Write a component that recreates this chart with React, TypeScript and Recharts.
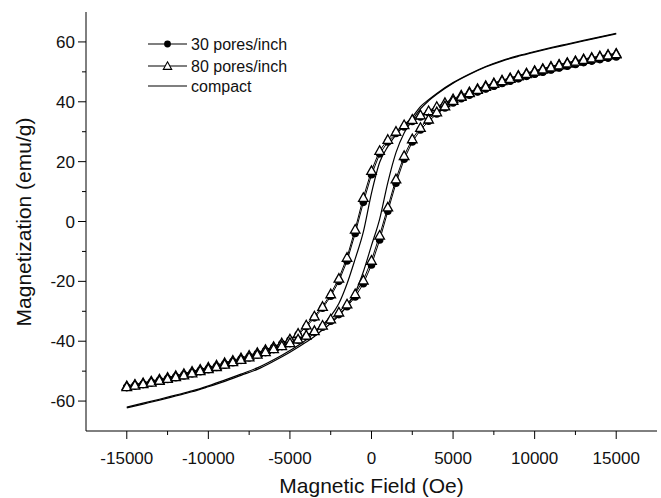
import { Legend, Scatter, ScatterChart, XAxis, YAxis } from 'recharts';

// applied field steps (Oe) of the VSM sweep
const field = [
  -15000, -14500, -14000, -13500, -13000, -12500, -12000, -11500, -11000, -10500,
  -10000, -9500, -9000, -8500, -8000, -7500, -7000, -6500, -6000, -5500,
  -5000, -4500, -4000, -3500, -3000, -2500, -2000, -1500, -1000, -500,
  0, 500, 1000, 1500, 2000, 2500, 3000, 3500, 4000, 4500,
  5000, 5500, 6000, 6500, 7000, 7500, 8000, 8500, 9000, 9500,
  10000, 10500, 11000, 11500, 12000, 12500, 13000, 13500, 14000, 14500, 15000,
];

// 30 pores/inch, descending branch (upper) and ascending branch (lower)
const m30Down = [
  -55.3, -54.8, -54.3, -53.7, -53.1, -52.5, -51.9, -51.2, -50.5, -49.8,
  -49.1, -48.4, -47.6, -46.8, -46.0, -45.1, -44.2, -43.2, -42.1, -40.9,
  -39.6, -37.8, -35.2, -32.2, -29.0, -25.0, -20.0, -13.2, -4.0, 6.4,
  15.6, 22.6, 26.6, 29.4, 31.6, 33.4, 34.9, 36.3, 37.6, 38.9,
  40.2, 41.3, 42.4, 43.4, 44.4, 45.3, 46.2, 47.0, 47.8, 48.6,
  49.3, 50.0, 50.7, 51.4, 52.0, 52.6, 53.2, 53.7, 54.2, 54.7, 55.2,
];
const m30Up = [
  -55.5, -55.0, -54.5, -54.0, -53.4, -52.8, -52.2, -51.6, -50.9, -50.2,
  -49.5, -48.8, -48.0, -47.2, -46.4, -45.6, -44.7, -43.8, -42.8, -41.8,
  -40.8, -39.7, -38.4, -37.0, -35.3, -33.3, -31.1, -28.5, -25.2, -20.8,
  -14.5, -6.2, 3.4, 12.8, 20.8, 26.6, 30.6, 33.5, 35.9, 37.9,
  39.6, 41.0, 42.2, 43.3, 44.3, 45.2, 46.1, 46.9, 47.7, 48.5,
  49.2, 49.9, 50.6, 51.3, 51.9, 52.5, 53.1, 53.6, 54.1, 54.6, 55.0,
];

// 80 pores/inch
const m80Down = [
  -54.9, -54.4, -53.9, -53.3, -52.7, -52.1, -51.5, -50.8, -50.1, -49.4,
  -48.7, -48.0, -47.2, -46.4, -45.6, -44.7, -43.8, -42.8, -41.8, -40.6,
  -39.3, -37.4, -34.6, -31.6, -28.4, -24.2, -19.0, -12.0, -2.6, 8.0,
  17.0, 23.7, 27.4, 30.1, 32.3, 34.1, 35.6, 37.0, 38.4, 39.7,
  41.0, 42.2, 43.3, 44.4, 45.4, 46.3, 47.2, 48.0, 48.8, 49.6,
  50.4, 51.1, 51.8, 52.5, 53.1, 53.7, 54.3, 54.8, 55.3, 55.8, 56.2,
];
const m80Up = [
  -55.2, -54.7, -54.2, -53.7, -53.1, -52.5, -51.9, -51.3, -50.6, -49.9,
  -49.2, -48.5, -47.7, -46.9, -46.1, -45.3, -44.4, -43.5, -42.5, -41.5,
  -40.5, -39.3, -38.0, -36.5, -34.7, -32.6, -30.3, -27.6, -24.2, -19.6,
  -13.0, -4.6, 4.8, 14.2, 22.0, 27.6, 31.4, 34.2, 36.6, 38.6,
  40.4, 41.8, 43.0, 44.1, 45.1, 46.1, 47.0, 47.8, 48.6, 49.4,
  50.2, 50.9, 51.6, 52.3, 52.9, 53.5, 54.1, 54.6, 55.1, 55.6, 56.0,
];

// compact sample (plain line)
const compactField = [
  -15000, -14000, -13000, -12000, -11000, -10000, -9000, -8000, -7000, -6000, -5000, -4000,
  -3500, -3000, -2500, -2000, -1500, -1000, -500, 0, 500, 1000, 1500, 2000, 2500, 3000, 3500,
  4000, 5000, 6000, 7000, 8000, 9000, 10000, 11000, 12000, 13000, 14000, 15000,
];
const compactDown = [
  -62.0, -60.7, -59.4, -58.0, -56.6, -54.9, -53.0, -51.0, -48.9, -46.2, -43.1, -39.5,
  -37.2, -34.6, -31.6, -27.4, -20.8, -12.5, -3.5, 9.5, 19.8, 25.0, 29.0, 32.2, 34.9, 38.4, 40.7,
  42.8, 46.4, 49.3, 51.8, 53.8, 55.4, 56.8, 58.1, 59.3, 60.5, 61.7, 62.9,
];
const compactUp = [
  -62.3, -61.0, -59.7, -58.3, -56.9, -55.2, -53.4, -51.4, -49.4, -46.7, -43.7, -40.3,
  -38.4, -36.2, -34.0, -31.4, -28.2, -23.8, -16.8, -8.0, 0.8, 13.0, 23.0, 29.6, 33.8, 37.6, 40.3,
  42.5, 46.2, 49.1, 51.6, 53.6, 55.2, 56.6, 57.9, 59.1, 60.3, 61.5, 62.7,
];

const xTicks = [-15000, -12500, -10000, -7500, -5000, -2500, 0, 2500, 5000, 7500, 10000, 12500, 15000];
const yTicks = [-60, -50, -40, -30, -20, -10, 0, 10, 20, 30, 40, 50, 60];

const FONT = '"Liberation Sans", Arial, Helvetica, sans-serif';

const toPoints = (xs: number[], ys: number[]) => xs.map((x, i) => ({ x, y: ys[i] }));

const Dot = (p: any) => <circle cx={p.cx} cy={p.cy} r={3.8} fill="#000" />;
const Tri = (p: any) => {
  const { cx, cy } = p;
  const s = 4.8;
  return (
    <polygon
      points={`${cx},${cy - s} ${cx + s},${cy + s * 0.8} ${cx - s},${cy + s * 0.8}`}
      fill="#fff"
      stroke="#000"
      strokeWidth={1.3}
    />
  );
};
const NoDot = () => <g />;

const XTick = (props: any) => {
  const { x, y, payload } = props;
  const v = payload.value as number;
  const major = v % 5000 === 0;
  return (
    <g>
      <line x1={x} x2={x} y1={y} y2={y + (major ? 8 : 4)} stroke="#000" />
      {major && (
        <text x={x} y={y + 33} textAnchor="middle" fontSize={17} fontFamily={FONT} fill="#111">
          {String(v)}
        </text>
      )}
    </g>
  );
};

const YTick = (props: any) => {
  const { x, y, payload } = props;
  const v = payload.value as number;
  const major = v % 20 === 0;
  return (
    <g>
      <line x1={x} x2={x - (major ? 8 : 4)} y1={y} y2={y} stroke="#000" />
      {major && (
        <text x={x - 11} y={y + 6} textAnchor="end" fontSize={17} fontFamily={FONT} fill="#111">
          {String(v)}
        </text>
      )}
    </g>
  );
};

function LegendBox() {
  const rows = [
    { y: 14, label: '30 pores/inch', mark: 'dot' },
    { y: 36, label: '80 pores/inch', mark: 'tri' },
    { y: 56, label: 'compact', mark: 'none' },
  ];
  return (
    <svg width={170} height={70}>
      {rows.map((r) => (
        <g key={r.label}>
          <line x1={8} x2={47} y1={r.y} y2={r.y} stroke="#000" strokeWidth={1.2} />
          {r.mark === 'dot' && <circle cx={27.5} cy={r.y} r={3.4} fill="#000" />}
          {r.mark === 'tri' && (
            <polygon
              points={`27.5,${r.y - 4.2} 31.7,${r.y + 3.4} 23.3,${r.y + 3.4}`}
              fill="#fff"
              stroke="#000"
              strokeWidth={1.1}
            />
          )}
          <text x={51} y={r.y + 5.5} fontSize={16} fontFamily={FONT} fill="#111">
            {r.label}
          </text>
        </g>
      ))}
    </svg>
  );
}

export default function App() {
  const lineStyle = { stroke: '#000', strokeWidth: 1 };
  return (
    <div style={{ position: 'absolute', left: 0, top: 0, width: 661, height: 498, background: '#fff' }}>
      <ScatterChart width={661} height={498} margin={{ top: 12, right: 4, bottom: 0, left: 0 }}>
        <XAxis
          type="number"
          dataKey="x"
          domain={[-17500, 17500]}
          ticks={xTicks}
          interval={0}
          height={67}
          tickSize={0}
          tickMargin={0}
          tickLine={false}
          tick={XTick}
          stroke="#000"
          allowDataOverflow
          label={() => (
            <text x={371.5} y={493} textAnchor="middle" fontSize={21} fontFamily={FONT} fill="#111">
              Magnetic Field (Oe)
            </text>
          )}
        />
        <YAxis
          type="number"
          dataKey="y"
          domain={[-70, 70]}
          ticks={yTicks}
          interval={0}
          width={86}
          tickSize={0}
          tickMargin={0}
          tickLine={false}
          tick={YTick}
          stroke="#000"
          allowDataOverflow
          label={() => (
            <text
              x={31}
              y={222}
              transform="rotate(-90 31 222)"
              textAnchor="middle"
              fontSize={21}
              fontFamily={FONT}
              fill="#111"
            >
              Magnetization (emu/g)
            </text>
          )}
        />
        <Legend
          layout="vertical"
          align="center"
          verticalAlign="middle"
          content={() => <LegendBox />}
          wrapperStyle={{ left: 140, top: 30, width: 170, height: 70 }}
        />
        <Scatter
          name="compact-down"
          data={toPoints(compactField, compactDown)}
          line={{ stroke: '#000', strokeWidth: 1.2 }}
          lineJointType="monotoneX"
          shape={NoDot}
          isAnimationActive={false}
          legendType="none"
        />
        <Scatter
          name="compact-up"
          data={toPoints(compactField, compactUp)}
          line={{ stroke: '#000', strokeWidth: 1.2 }}
          lineJointType="monotoneX"
          shape={NoDot}
          isAnimationActive={false}
          legendType="none"
        />
        <Scatter
          name="30 pores/inch down"
          data={toPoints(field, m30Down)}
          line={lineStyle}
          shape={Dot}
          isAnimationActive={false}
          legendType="none"
        />
        <Scatter
          name="30 pores/inch up"
          data={toPoints(field, m30Up)}
          line={lineStyle}
          shape={Dot}
          isAnimationActive={false}
          legendType="none"
        />
        <Scatter
          name="80 pores/inch down"
          data={toPoints(field, m80Down)}
          line={lineStyle}
          shape={Tri}
          isAnimationActive={false}
          legendType="none"
        />
        <Scatter
          name="80 pores/inch up"
          data={toPoints(field, m80Up)}
          line={lineStyle}
          shape={Tri}
          isAnimationActive={false}
          legendType="none"
        />
      </ScatterChart>
    </div>
  );
}
